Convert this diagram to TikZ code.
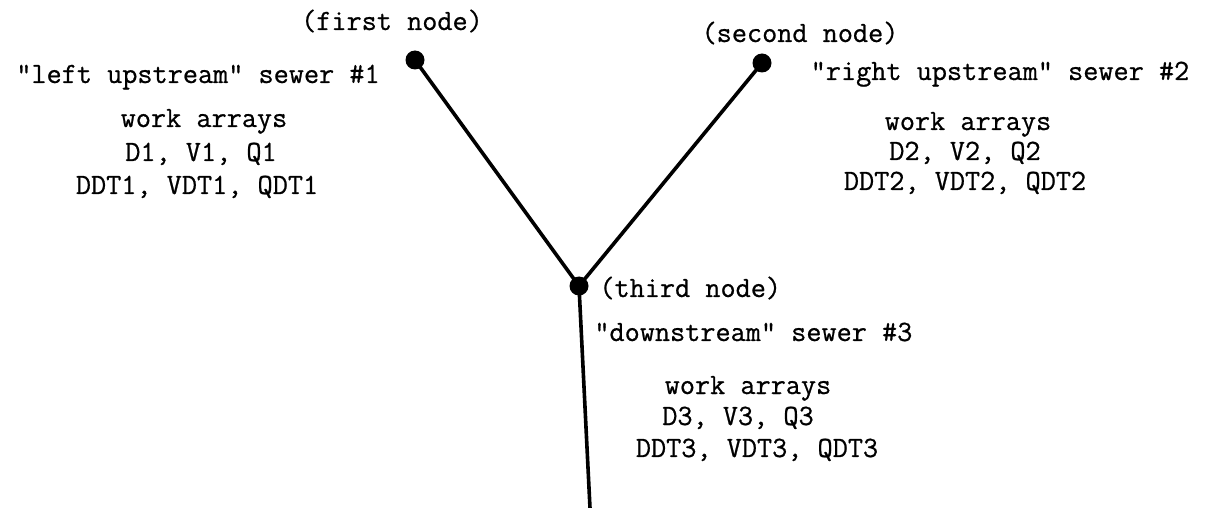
\documentclass[tikz,border=0pt]{standalone}
\usepackage{fontspec}
\newfontfamily\tw{Latin Modern Mono}[FakeBold=0.7]
\begin{document}
\begin{tikzpicture}[x=0.5pt,y=-0.5pt,
  lbl/.style={font=\tw\fontsize{14.7}{17}\selectfont, inner sep=0pt, anchor=base},
  lblw/.style={lbl, anchor=base west},
  dotnode/.style={circle, fill=black, draw=none, minimum size=9.5pt, inner sep=0pt},
  pipe/.style={line width=1.8pt, line cap=round}]
\useasboundingbox[fill=white] (0,0) rectangle (1207,508);
% junction nodes
\node[dotnode] (n1) at (415,60) {};
\node[dotnode] (n2) at (762,63) {};
\node[dotnode] (n3) at (579,286) {};
\coordinate (out) at (590,508);
% sewers
\draw[pipe] (n1.center) -- (n3.center);
\draw[pipe] (n2.center) -- (n3.center);
\draw[pipe] (n3.center) -- (out);
% node labels
\node[lbl] (t1) at (392,30) {(first node)};
\node[lbl] (t2) at (800,42) {(second node)};
\node[lblw] (t3) at (599,297) {(third node)};
% left upstream sewer
\node[lbl] (l0) at (198,83) {"left upstream" sewer \#1};
\node[lbl] (l1) at (204,127) {work arrays};
\node[lbl] (l2) at (201,161) {D1, V1, Q1};
\node[lbl] (l3) at (197,194) {DDT1, VDT1, QDT1};
% right upstream sewer
\node[lbl] (r0) at (1000,80) {"right upstream" sewer \#2};
\node[lbl] (r1) at (968,130) {work arrays};
\node[lbl] (r2) at (965,160) {D2, V2, Q2};
\node[lbl] (r3) at (965,190) {DDT2, VDT2, QDT2};
% downstream sewer
\node[lblw] (d0) at (594,341) {"downstream" sewer \#3};
\node[lbl] (d1) at (748,394) {work arrays};
\node[lbl] (d2) at (738,425) {D3, V3, Q3};
\node[lbl] (d3) at (757,457) {DDT3, VDT3, QDT3};
\end{tikzpicture}
\end{document}
